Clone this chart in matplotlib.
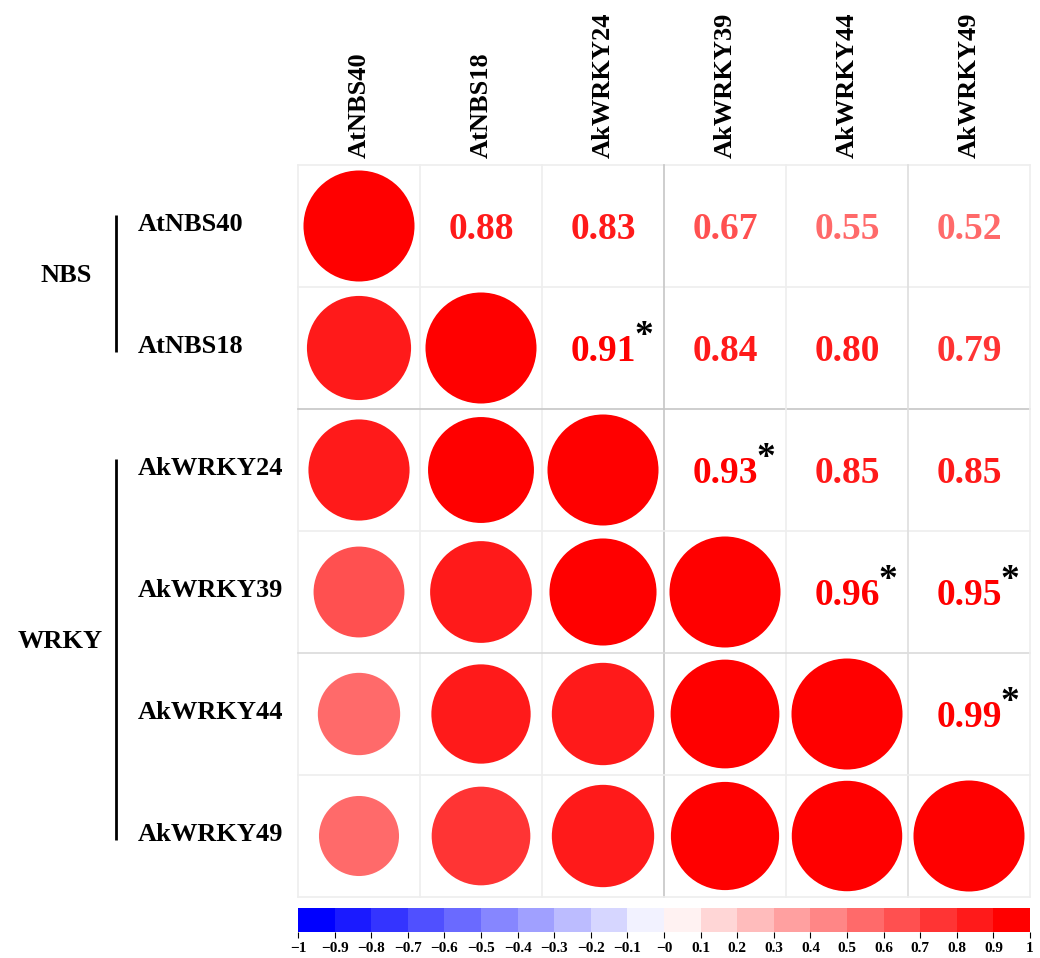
import matplotlib
matplotlib.use("Agg")
import matplotlib.pyplot as plt
import numpy as np
from matplotlib.colors import LinearSegmentedColormap, ListedColormap, BoundaryNorm
from matplotlib.patches import Circle
from matplotlib.cm import ScalarMappable

plt.rcParams['font.family'] = ['Liberation Serif', 'DejaVu Serif']
plt.rcParams['font.weight'] = 'bold'

genes = ["AtNBS40", "AtNBS18", "AkWRKY24", "AkWRKY39", "AkWRKY44", "AkWRKY49"]
corr = np.array([
    [1.00, 0.88, 0.83, 0.67, 0.55, 0.52],
    [0.88, 1.00, 0.91, 0.84, 0.80, 0.79],
    [0.83, 0.91, 1.00, 0.93, 0.85, 0.85],
    [0.67, 0.84, 0.93, 1.00, 0.96, 0.95],
    [0.55, 0.80, 0.85, 0.96, 1.00, 0.99],
    [0.52, 0.79, 0.85, 0.95, 0.99, 1.00],
])
# pairs marked significant (row, col) in upper triangle
signif = [(1, 2), (2, 3), (3, 4), (3, 5), (4, 5)]
groups = ["NBS", "WRKY"]
group_rows = [(0, 1), (2, 5)]
cbar_ticks = np.round(np.arange(-1, 1.01, 0.1), 1)

# 20-step blue-white-red palette
ramp = LinearSegmentedColormap.from_list("bwr3", ["blue", "white", "red"])
cmap = ListedColormap(ramp(np.linspace(0, 1, 20)))
bounds = np.linspace(-1, 1, 21)
norm = BoundaryNorm(bounds, cmap.N)


def color_of(v):
    idx = int(np.floor(np.round((v + 1) * 10, 6)))
    return cmap(min(max(idx, 0), 19))


W, H = 1040, 958
fig = plt.figure(figsize=(W / 100, H / 100), dpi=100)
px = 1 / 122.0  # one pixel in cell units

ax = fig.add_axes([298 / W, (H - 897) / H, 732 / W, 732 / H])
n = len(genes)
ax.set_xlim(0, n)
ax.set_ylim(n, 0)
ax.axis('off')

# grid lines
vcol = ['#eeeeee', '#eeeeee', '#eeeeee', '#c6c6c6', '#eeeeee', '#dedede', '#eeeeee']
hcol = ['#eeeeee', '#eeeeee', '#c6c6c6', '#eeeeee', '#dadada', '#eeeeee', '#eeeeee']
for k in range(n + 1):
    ax.plot([k, k], [0, n], color=vcol[k], lw=1.2, zorder=1, clip_on=False)
    ax.plot([0, n], [k, k], color=hcol[k], lw=1.2, zorder=1, clip_on=False)

for i in range(n):
    for j in range(n):
        v = corr[i, j]
        c = color_of(v)
        if j <= i:
            r = 0.455 * np.sqrt(abs(v))
            ax.add_patch(Circle((j + 0.5, i + 0.5), r, facecolor=c,
                                edgecolor='none', zorder=2))
        else:
            ax.text(j + 0.5, i + 0.5 + 13 * px, f"{v:.2f}", color=c,
                    fontsize=27, fontweight='bold', ha='center', va='baseline',
                    zorder=3)
            if (i, j) in signif:
                ax.text(j + 0.5 + 31 * px, i + 0.5 - 2 * px, "*", color='black',
                        fontsize=27, fontweight='bold', ha='left',
                        va='baseline', zorder=3)

# row and column labels
for i, g in enumerate(genes):
    ax.text(-160 * px, i + 0.5 + 5 * px, g, fontsize=19, fontweight='bold',
            ha='left', va='baseline', clip_on=False)
    ax.text(i + 0.5, -7 * px, g, fontsize=19, fontweight='bold', rotation=90,
            ha='center', va='bottom', clip_on=False)

# group brackets
gx = [66, 60]
for g, (r0, r1), x in zip(groups, group_rows, gx):
    ax.plot([-182 * px, -182 * px], [r0 + 0.5 - 11 * px, r1 + 0.5 + 4 * px],
            color='black', lw=2.0, clip_on=False, solid_capstyle='butt')
    mid = (r0 + r1 + 1) / 2.0
    ax.text((x - 298) * px, mid - 12 * px, g, fontsize=19, fontweight='bold',
            ha='center', va='center', clip_on=False)

# colour bar
cax = fig.add_axes([298 / W, (H - 932) / H, 732 / W, 24 / H])
cb = fig.colorbar(ScalarMappable(norm=norm, cmap=cmap), cax=cax,
                  orientation='horizontal', ticks=cbar_ticks)
cb.outline.set_visible(False)
cb.set_ticklabels([f"{t:g}".replace('-', '\u2212') for t in cbar_ticks])
cax.tick_params(axis='x', length=4, width=0.8, pad=3, labelsize=11)
for lab in cax.get_xticklabels():
    lab.set_fontweight('bold')

fig.savefig("out.png", dpi=100)
